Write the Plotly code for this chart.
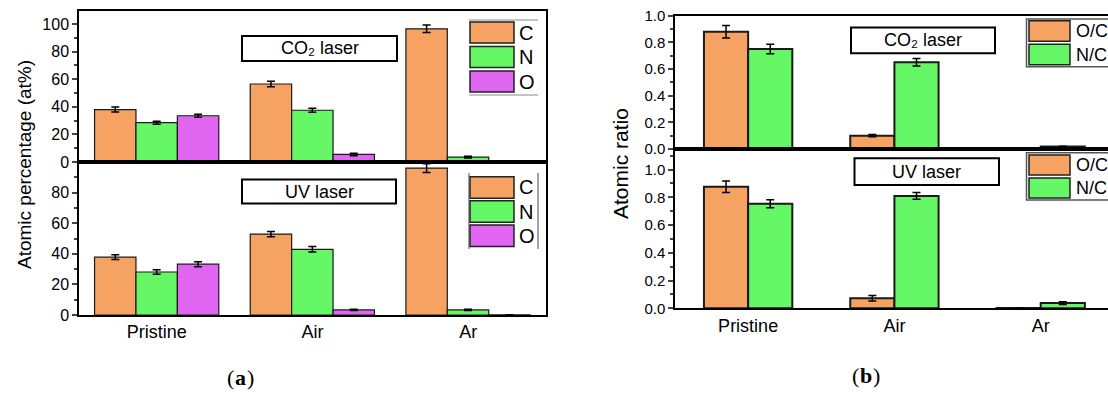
import plotly.graph_objects as go

W, H = 1108, 394

# ---------------- data ----------------
categories = ["Pristine", "Air", "Ar"]

# (a) atomic percentage, CO2 laser
co2_C = [38.0, 56.5, 96.5]
co2_N = [28.5, 37.5, 3.5]
co2_O = [33.5, 5.5, 0.3]
co2_C_err = [1.8, 2.0, 2.7]
co2_N_err = [1.1, 1.5, 0.6]
co2_O_err = [1.1, 0.9, 0.2]

# (a) atomic percentage, UV laser
uv_C = [37.8, 52.9, 96.0]
uv_N = [28.1, 42.9, 3.3]
uv_O = [33.2, 3.3, 0.1]
uv_C_err = [1.6, 1.7, 2.9]
uv_N_err = [1.4, 1.8, 0.4]
uv_O_err = [1.6, 0.4, 0.0]

# (b) atomic ratio, CO2 laser
co2_OC = [0.88, 0.10, 0.003]
co2_NC = [0.75, 0.65, 0.018]
co2_OC_err = [0.047, 0.008, 0.0]
co2_NC_err = [0.036, 0.028, 0.003]

# (b) atomic ratio, UV laser
uv_OC = [0.876, 0.072, 0.003]
uv_NC = [0.754, 0.81, 0.038]
uv_OC_err = [0.042, 0.02, 0.0]
uv_NC_err = [0.029, 0.024, 0.01]

elem_names = ["C", "N", "O"]
ratio_names = ["O/C", "N/C"]
orange, green, magenta = "#F5A262", "#66F766", "#E066F2"
elem_colors = [orange, green, magenta]
ratio_colors = [orange, green]

FONT = "Liberation Sans, Arial, sans-serif"
SERIF = "Liberation Serif, DejaVu Serif, serif"


def px(x):
    return x / W


def py(y):
    return 1 - y / H


fig = go.Figure()


def add_bars(xa, ya, series, errs, names, colors, width, start, lw):
    for i, (vals, err, name, col) in enumerate(zip(series, errs, names, colors)):
        fig.add_trace(go.Bar(
            x=categories, y=vals, name=name, xaxis=xa, yaxis=ya,
            width=width, offset=start + i * width,
            marker=dict(color=col, line=dict(color="#1a1a1a", width=lw)),
            error_y=dict(type="data", array=err, color="black",
                         thickness=1.5, width=4),
            showlegend=False,
        ))


add_bars("x", "y", [co2_C, co2_N, co2_O], [co2_C_err, co2_N_err, co2_O_err],
         elem_names, elem_colors, 0.266, -0.4, 1.2)
add_bars("x2", "y2", [uv_C, uv_N, uv_O], [uv_C_err, uv_N_err, uv_O_err],
         elem_names, elem_colors, 0.266, -0.4, 1.2)
add_bars("x3", "y3", [co2_OC, co2_NC], [co2_OC_err, co2_NC_err],
         ratio_names, ratio_colors, 0.302, -0.302, 2)
add_bars("x4", "y4", [uv_OC, uv_NC], [uv_OC_err, uv_NC_err],
         ratio_names, ratio_colors, 0.302, -0.302, 2)

axis_common = dict(showline=True, linecolor="black", linewidth=1.5,
                   mirror=True, showgrid=False, zeroline=False,
                   automargin=False)

L_dom = [px(79), px(546)]
R_dom = [px(675), 1.0]
LT = [py(162), py(11)]
LB = [py(315), py(162)]
RT = [py(149), py(15.7)]
RB = [py(308.3), py(149)]

xcommon = dict(axis_common, type="category", range=[-0.5, 2.5], ticks="",
               tickfont=dict(family=FONT, size=18, color="black"))

fig.update_layout(
    template="none",
    width=W, height=H,
    margin=dict(l=0, r=0, t=0, b=0, pad=0, autoexpand=False),
    paper_bgcolor="white", plot_bgcolor="white", barmode="overlay",
    font=dict(family=FONT, color="black"),
    xaxis=dict(xcommon, domain=L_dom, anchor="y", showticklabels=False),
    xaxis2=dict(xcommon, domain=L_dom, anchor="y2"),
    xaxis3=dict(xcommon, domain=R_dom, anchor="y3", showticklabels=False,
                range=[-0.5, 2.46]),
    xaxis4=dict(xcommon, domain=R_dom, anchor="y4", range=[-0.5, 2.46]),
    yaxis=dict(axis_common, domain=LT, anchor="x", range=[0, 109.4],
               tickvals=[0, 20, 40, 60, 80, 100], ticks="outside", ticklen=5,
               tickwidth=1.5, minor=dict(tickvals=[10, 30, 50, 70, 90],
                                         ticks="outside", ticklen=3),
               tickfont=dict(family=FONT, size=16)),
    yaxis2=dict(axis_common, domain=LB, anchor="x2", range=[0, 100],
                tickvals=[0, 20, 40, 60, 80], ticks="outside", ticklen=5,
                tickwidth=1.5, minor=dict(tickvals=[10, 30, 50, 70, 90],
                                          ticks="outside", ticklen=3),
                tickfont=dict(family=FONT, size=16)),
    yaxis3=dict(axis_common, domain=RT, anchor="x3", range=[0, 1.0],
                mirror=False,
                tickvals=[0, 0.2, 0.4, 0.6, 0.8, 1.0], tickformat=".1f",
                ticks="outside", ticklen=5, tickwidth=1.5,
                minor=dict(tickvals=[0.1, 0.3, 0.5, 0.7, 0.9],
                           ticks="outside", ticklen=3),
                tickfont=dict(family=FONT, size=15)),
    yaxis4=dict(axis_common, domain=RB, anchor="x4", range=[0, 1.148],
                mirror=False,
                tickvals=[0, 0.2, 0.4, 0.6, 0.8, 1.0], tickformat=".1f",
                ticks="outside", ticklen=5, tickwidth=1.5,
                minor=dict(tickvals=[0.1, 0.3, 0.5, 0.7, 0.9, 1.1],
                           ticks="outside", ticklen=3),
                tickfont=dict(family=FONT, size=15)),
)

ann = []
shapes = []


def text_at(text, x, y, size, family=FONT, xanchor="center", weight="normal",
            angle=0):
    ann.append(dict(text=text, x=px(x), y=py(y), xref="paper", yref="paper",
                    xanchor=xanchor, yanchor="middle", showarrow=False,
                    textangle=angle,
                    font=dict(family=family, size=size, color="black",
                              weight=weight)))


def label_box(text, x0, x1, y0, y1, size=18):
    shapes.append(dict(type="rect", xref="paper", yref="paper",
                       x0=px(x0), x1=px(x1), y0=py(y1), y1=py(y0),
                       fillcolor="white", line=dict(color="black", width=2)))
    text_at(text, (x0 + x1) / 2, (y0 + y1) / 2, size)


label_box("CO\u2082 laser", 242, 397, 36, 61)
label_box("UV laser", 242, 396, 179.5, 203.5)
label_box("CO\u2082 laser", 851, 995, 27.5, 53.3)
label_box("UV laser", 854.5, 999, 158.3, 185)

# axis titles
text_at("Atomic percentage (at%)", 24, 165, 19, angle=-90)
text_at("Atomic ratio", 620, 164, 21, angle=-90)

# panel labels: "(" normal, letter bold, ")" normal
for letter, cx, cy, half in [("a", 240, 377, 5.5), ("b", 866, 375, 6.1)]:
    text_at("(", cx - half + 1, cy, 22, family=SERIF, xanchor="right")
    text_at(letter, cx, cy, 22, family=SERIF, weight="bold")
    text_at(")", cx + half - 1, cy, 22, family=SERIF, xanchor="left")


def legend_block(names, colors, x0, x1, ytops, h, tx, size):
    for name, col, yt in zip(names, colors, ytops):
        shapes.append(dict(type="rect", xref="paper", yref="paper",
                           x0=px(x0), x1=px(x1), y0=py(yt + h), y1=py(yt),
                           fillcolor=col, line=dict(color="#222", width=1.5)))
        text_at(name, tx, yt + h / 2, size, xanchor="left")


# left panel legends
legend_block(elem_names, elem_colors, 470, 514, [22, 46.5, 71], 21, 517, 20)
legend_block(elem_names, elem_colors, 470, 514, [176.7, 200.8, 225], 21.5, 517, 20)
for yy in [20, 95]:
    shapes.append(dict(type="line", xref="paper", yref="paper", x0=px(469),
                       x1=px(538), y0=py(yy), y1=py(yy),
                       line=dict(color="#888", width=1)))
for xx in [469, 538]:
    shapes.append(dict(type="line", xref="paper", yref="paper", x0=px(xx),
                       x1=px(xx), y0=py(173), y1=py(249),
                       line=dict(color="#444", width=1)))

# right panel legends
for yt, yb in [(19, 66.7), (152.7, 200)]:
    shapes.append(dict(type="rect", xref="paper", yref="paper", x0=px(1026.5),
                       x1=px(1115), y0=py(yb), y1=py(yt), fillcolor="white",
                       line=dict(color="#555", width=1.5)))
legend_block(ratio_names, ratio_colors, 1029, 1070, [20.7, 44.3], 20.5, 1074, 18)
legend_block(ratio_names, ratio_colors, 1029, 1070, [155, 178], 20, 1074, 18)

fig.update_layout(annotations=ann, shapes=shapes)
fig.write_html("out.html")
